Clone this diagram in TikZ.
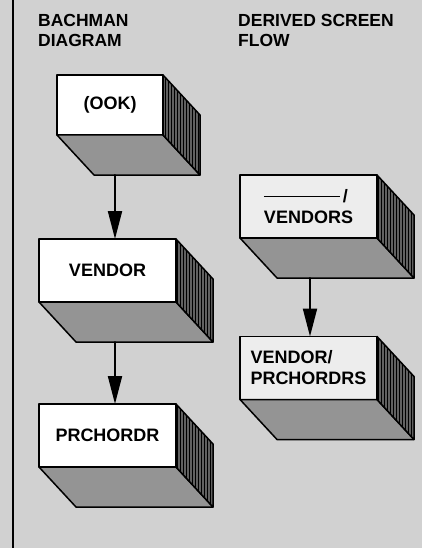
\documentclass[tikz,border=0pt]{standalone}
\usepackage{fontspec}
\setmainfont{Liberation Sans}
\usepackage{xcolor}
\usepackage{tikz}
\usetikzlibrary{arrows.meta,calc,patterns}
\definecolor{paper}{gray}{0.82}
\definecolor{facelight}{gray}{0.93}
\definecolor{facemid}{gray}{0.58}
\definecolor{facedark}{gray}{0.38}
\tikzset{
    every picture/.style={line cap=round,line join=round},
    slab/.style={draw=black,fill=white,line width=1.5pt,
      minimum width=137pt,minimum height=63pt,inner sep=0pt,outer sep=0pt,
      font=\fontsize{18}{21}\selectfont\bfseries,align=left},
    heading/.style={anchor=north west,inner sep=0pt,
      font=\fontsize{17.5}{20}\selectfont\bfseries,align=left},
    underside/.style={draw=black,fill=facemid,line width=1.5pt},
    rightside/.style={draw=black,fill=facedark,line width=1.5pt,
      postaction={pattern=vertical lines,pattern color=black}},
    flowarrow/.style={-{Triangle[length=28pt,width=14pt]},draw=black,
      line width=2pt}
}
\begin{document}
\begin{tikzpicture}[x=1pt,y=-1pt]
  \fill[paper] (0,0) rectangle (422,548);
  \useasboundingbox (0,0) rectangle (422,548);
  \draw[line width=1.5pt] (13,0) -- (13,548);
  % column headings
  \node[heading] (hleft) at (38,14.5) {BACHMAN\\DIAGRAM};
  \node[heading] (hright) at (238,14.5) {DERIVED SCREEN\\FLOW};
  % front faces
  \node[slab,minimum width=106pt,minimum height=60pt] (ook) at (110,105) {(OOK)};
  \node[slab] (vendor) at (107.5,270.5) {VENDOR};
  \node[slab] (prchordr) at (107.5,435.5) {PRCHORDR};
  \node[slab,fill=facelight] (vendors) at (308.5,206.5)
    {\rule[5pt]{76pt}{1.6pt}\,/\\VENDORS};
  \node[slab,fill=facelight,yshift=3pt] (vprch) at (308.5,371) {VENDOR/\\PRCHORDRS};
  % depth of each box
  \foreach \b in {ook,vendor,prchordr,vendors,vprch}{
    \draw[underside] (\b.south west) -- (\b.south east) -- ++(37,40)
      -- ($(\b.south west)+(37,40)$) -- cycle;
    \draw[rightside] (\b.north east) -- ++(37,40)
      -- ($(\b.south east)+(37,40)$) -- (\b.south east) -- cycle;}
  \draw[flowarrow] ($(ook.south)+(5,40)$) -- ($(vendor.north)+(7.5,0)$);
  \draw[flowarrow] ($(vendor.south)+(7.5,40)$) -- ($(prchordr.north)+(7.5,0)$);
  \draw[flowarrow] ($(vendors.south)+(1.5,40)$) -- ($(vprch.north)+(1.5,0)$);
\end{tikzpicture}
\end{document}
